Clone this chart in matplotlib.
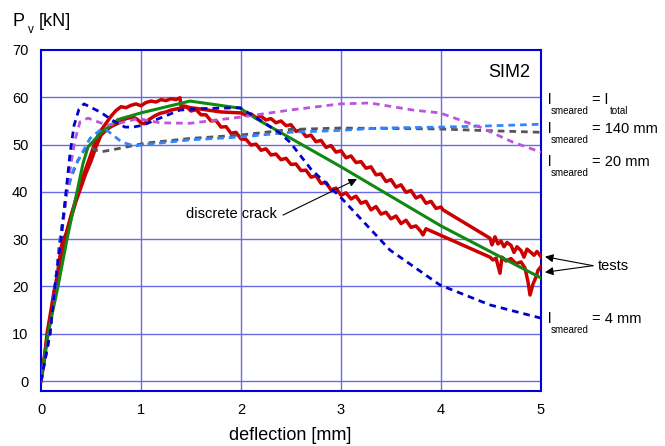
import matplotlib
matplotlib.use("Agg")
import matplotlib.pyplot as plt

plt.rcParams['font.family'] = ['Liberation Sans', 'DejaVu Sans']

# ---------------- data ----------------
# tests (two red curves)
test1_x = [0, 0.03, 0.06, 0.10, 0.13, 0.16, 0.20, 0.22, 0.25, 0.30, 0.35, 0.40, 0.45, 0.50, 0.55,
           0.60, 0.65, 0.70, 0.75, 0.80, 0.85, 0.90, 0.95, 1.00, 1.05, 1.10, 1.15, 1.20, 1.25,
           1.30, 1.35, 1.39, 1.40, 1.45, 1.50, 1.55, 1.60, 1.65, 1.70, 1.75, 1.80, 1.85, 1.90,
           1.95, 2.00, 2.05, 2.10, 2.15, 2.20, 2.25, 2.30, 2.35, 2.40, 2.45, 2.50, 2.55, 2.60,
           2.65, 2.70, 2.75, 2.80, 2.85, 2.90, 2.95, 3.00, 3.05, 3.10, 3.15, 3.20, 3.25, 3.30,
           3.35, 3.40, 3.45, 3.50, 3.55, 3.60, 3.65, 3.70, 3.75, 3.80, 3.82, 3.85, 4.49, 4.52,
           4.55, 4.59, 4.61, 4.65, 4.70, 4.75, 4.80, 4.84, 4.87, 4.89, 4.92, 4.95, 4.97, 5.00]
test1_y = [0, 4, 10, 15, 19, 22, 28, 30, 31, 35, 38.5, 42, 45, 48, 51,
           53, 54.5, 56, 57.2, 58, 57.8, 58.3, 58.6, 58.2, 58.9, 59.2, 59.0, 59.5, 59.3,
           59.7, 59.5, 59.9, 58.2, 58.1, 57.1, 57.4, 56.3, 56.3, 55.0, 55.1, 53.7, 53.8, 52.4,
           52.6, 51.2, 51.1, 49.9, 50.1, 48.8, 49.1, 47.8, 48.0, 46.8, 47.1, 45.8, 45.9, 44.5,
           44.6, 43.1, 43.4, 41.8, 42.0, 40.4, 40.8, 39.3, 39.8, 38.5, 39.1, 37.6, 38.0, 36.2,
           36.9, 35.3, 35.7, 34.3, 34.9, 33.3, 34.0, 32.5, 32.8, 31.6, 30.9, 32.2, 26.2, 25.6,
           26.0, 22.8, 26.2, 25.4, 25.9, 24.8, 25.2, 23.9, 21.0, 18.2, 20.5, 22.0, 23.4, 24.2]

test2_x = [0, 0.04, 0.07, 0.12, 0.15, 0.20, 0.25, 0.30, 0.35, 0.40, 0.45, 0.50, 0.55, 0.60, 0.65,
           0.70, 0.77, 0.85, 0.92, 0.96, 1.00, 1.03, 1.08, 1.14, 1.19, 1.25, 1.30, 1.39, 1.45,
           1.50, 1.60, 1.70, 1.80, 1.90, 2.00, 2.05, 2.10, 2.15, 2.20, 2.25, 2.30, 2.35, 2.40,
           2.45, 2.50, 2.55, 2.60, 2.65, 2.70, 2.75, 2.80, 2.85, 2.90, 2.95, 3.00, 3.05, 3.10,
           3.15, 3.20, 3.25, 3.30, 3.35, 3.40, 3.45, 3.50, 3.55, 3.60, 3.65, 3.70, 3.75, 3.80,
           3.85, 3.90, 3.95, 4.00, 4.02, 4.49, 4.51, 4.54, 4.57, 4.60, 4.63, 4.66, 4.70, 4.73,
           4.76, 4.80, 4.83, 4.86, 4.90, 4.93, 4.96, 5.00]
test2_y = [0, 6, 10, 16, 20, 26, 31, 34.5, 38, 41, 44, 46.5, 49.5, 52, 53,
           53.8, 54.5, 55.5, 55.8, 55.4, 54.6, 54.4, 55.3, 56.1, 56.6, 56.9, 57.3, 57.7, 58.0,
           57.8, 57.5, 57.2, 56.9, 56.8, 56.7, 56.2, 56.5, 55.7, 56.0, 55.2, 55.5, 54.6, 55.0,
           54.0, 54.2, 52.8, 53.1, 51.7, 52.0, 50.6, 50.9, 49.4, 49.8, 48.4, 48.7, 47.2, 47.6,
           46.2, 46.4, 45.0, 45.3, 43.6, 43.8, 42.2, 42.6, 41.0, 41.5, 39.9, 40.3, 38.7, 39.2,
           37.6, 38.0, 36.5, 36.8, 36.2, 30.2, 28.8, 30.5, 29.0, 29.6, 28.4, 29.3, 28.7, 27.2,
           28.4, 27.6, 26.2, 27.9, 27.2, 26.6, 27.4, 26.3]

# discrete crack model (green)
crack_x = [0, 0.07, 0.17, 0.26, 0.36, 0.42, 0.47, 0.60, 0.77, 1.00, 1.49, 1.99, 2.15, 3.00, 4.00, 5.00]
crack_y = [0, 10, 20, 30, 40, 46, 49.5, 52.5, 55.3, 56.7, 59.2, 57.7, 55.5, 45.3, 32.8, 21.8]

# smeared models (dashed)
ltot_x = [0, 0.09, 0.14, 0.20, 0.26, 0.30, 0.34, 0.39, 0.47, 0.57, 0.66, 0.80, 0.97, 1.19, 1.49,
          1.99, 2.49, 2.99, 3.29, 3.72, 3.99, 4.39, 4.72, 5.00]
ltot_y = [0, 10, 20, 30, 40, 46, 51, 54.8, 55.6, 54.8, 54.1, 54.6, 55.5, 54.6, 54.5,
          55.8, 57.3, 58.6, 58.8, 57.3, 56.7, 53.7, 50.5, 48.4]

l140_x = [0, 0.09, 0.14, 0.19, 0.26, 0.33, 0.39, 0.49, 0.60, 0.66, 0.72, 0.81, 0.94, 1.00, 1.49,
          1.99, 2.49, 2.99, 3.39, 3.99, 4.39, 5.00]
l140_y = [0, 10, 20, 30, 40, 45, 47.4, 51.3, 53.2, 53.0, 52.0, 50.5, 49.7, 49.9, 51.0,
          51.6, 52.6, 53.0, 53.5, 53.7, 53.9, 54.3]

l20_x = [0, 0.09, 0.14, 0.19, 0.26, 0.29, 0.37, 0.43, 0.49, 0.55, 0.61, 0.81, 1.04, 1.49, 1.99,
         2.49, 2.99, 3.99, 4.39, 5.00]
l20_y = [0, 10, 20, 30, 40, 42.5, 46.7, 48.7, 49.5, 48.8, 48.5, 49.3, 50.3, 51.3, 52.0,
         53.2, 53.5, 53.3, 53.0, 52.6]

l4_x = [0, 0.09, 0.14, 0.20, 0.25, 0.29, 0.33, 0.38, 0.43, 0.59, 0.74, 0.84, 0.92, 1.02, 1.19,
        1.39, 1.59, 1.99, 2.16, 2.39, 2.49, 2.70, 2.99, 3.49, 3.99, 4.49, 5.00]
l4_y = [0, 10, 20, 30, 40, 48, 54, 57.5, 58.6, 56.9, 54.8, 53.7, 53.7, 54.1, 55.6,
        57.3, 57.6, 57.8, 55.6, 52.4, 50.5, 44.8, 39.0, 27.7, 20.3, 16.1, 13.3]

xticks = [0, 1, 2, 3, 4, 5]
yticks = [0, 10, 20, 30, 40, 50, 60, 70]

# ---------------- figure ----------------
W, H = 665, 446
fig = plt.figure(figsize=(W / 100, H / 100), dpi=100)
ax = fig.add_axes([41 / W, 1 - 391 / H, 500 / W, 341 / H])


def fx(px):
    return px / W


def fy(py):
    return 1 - py / H


grid_c = '#6A6AE6'
for v in [1, 2, 3, 4]:
    ax.axvline(v, color=grid_c, lw=1.0, zorder=1)
for v in [0, 10, 20, 30, 40, 50, 60]:
    ax.axhline(v, color=grid_c, lw=1.0, zorder=1)

red = '#CC0000'
ax.plot(test1_x, test1_y, color=red, lw=2.5, zorder=3)
ax.plot(test2_x, test2_y, color=red, lw=2.5, zorder=3)
ax.plot(crack_x, crack_y, color='#118811', lw=2.2, zorder=4)

dash = (2.4, 1.8)
ax.plot(l20_x, l20_y, color='#555555', lw=2.0, dashes=dash, zorder=5)
ax.plot(l140_x, l140_y, color='#3384FF', lw=2.0, dashes=dash, zorder=5)
ax.plot(ltot_x, ltot_y, color='#BB55DD', lw=2.0, dashes=dash, zorder=5)
ax.plot(l4_x, l4_y, color='#0000CC', lw=2.0, dashes=dash, zorder=6)

ax.set_xlim(0, 5)
ax.set_ylim(-2.1, 70)
ax.set_xticks(xticks)
ax.set_yticks(yticks)
ax.tick_params(length=0, labelsize=10.5)
ax.tick_params(axis='x', pad=9)
ax.tick_params(axis='y', pad=9)
for s in ax.spines.values():
    s.set_color('#0000DD')
    s.set_linewidth(1.5)

# y label P_v [kN]
fig.text(fx(12), fy(26), 'P', fontsize=13, ha='left', va='baseline')
fig.text(fx(28), fy(33), 'v', fontsize=8.5, ha='left', va='baseline')
fig.text(fx(39), fy(26), '[kN]', fontsize=13, ha='left', va='baseline')

# x label
fig.text(fx(290), fy(440), 'deflection [mm]', fontsize=13, ha='center', va='baseline')

# SIM2
fig.text(fx(530), fy(77), 'SIM2', fontsize=13, ha='right', va='baseline')


def lsm(py_base, rest, sub2=None):
    fig.text(fx(548), fy(py_base), 'l', fontsize=10.5, ha='left', va='baseline')
    fig.text(fx(551), fy(py_base + 10), 'smeared', fontsize=7, ha='left', va='baseline')
    fig.text(fx(592), fy(py_base), rest, fontsize=10.5, ha='left', va='baseline')
    if sub2:
        fig.text(fx(610), fy(py_base + 10), sub2, fontsize=7, ha='left', va='baseline')


lsm(104, '= l', 'total')
lsm(133, '= 140 mm')
lsm(166, '= 20 mm')
lsm(323, '= 4 mm')

# tests annotation
fig.text(fx(598), fy(270), 'tests', fontsize=10.5, ha='left', va='baseline')
for tgt in [(5.04, 26.3), (5.04, 23.0)]:
    ax.annotate('', xy=tgt, xytext=(5.52, 24.4), xycoords='data', textcoords='data',
                annotation_clip=False,
                arrowprops=dict(arrowstyle='-|>', color='black', lw=0.8,
                                mutation_scale=12, shrinkA=0, shrinkB=0))

# discrete crack annotation
ax.text(2.36, 35.3, 'discrete crack', fontsize=10.5, ha='right', va='center')
ax.annotate('', xy=(3.16, 42.7), xytext=(2.42, 35.1), xycoords='data', textcoords='data',
            arrowprops=dict(arrowstyle='-|>', color='black', lw=0.8,
                            mutation_scale=12, shrinkA=0, shrinkB=0))

fig.savefig('out.png', dpi=100)
